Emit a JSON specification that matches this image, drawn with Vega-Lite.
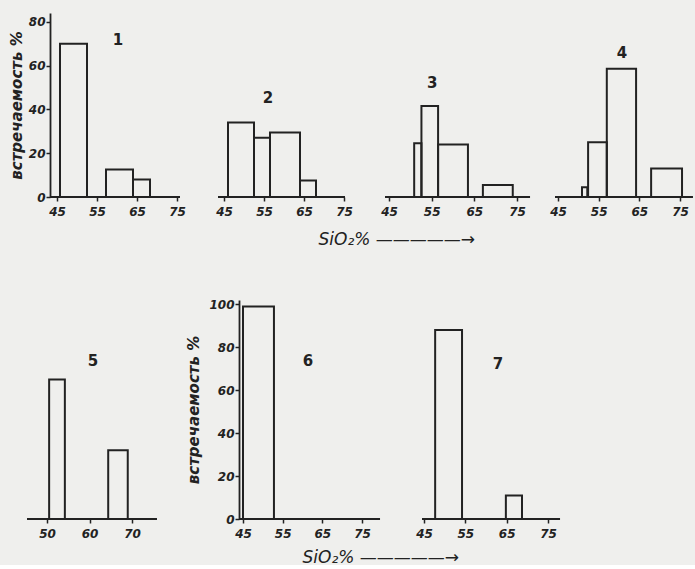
{
  "$schema": "https://vega.github.io/schema/vega-lite/v6.json",
  "background": "#efefed",
  "padding": {"left": 9, "top": 13, "right": 0, "bottom": 0},
  "datasets": {
    "bars": [
      {"panel": 1, "x1": 45.75, "x2": 52.5, "pct": 70},
      {"panel": 1, "x1": 57.25, "x2": 64, "pct": 12.5},
      {"panel": 1, "x1": 64, "x2": 68.25, "pct": 8},
      {"panel": 2, "x1": 46, "x2": 52.5, "pct": 34},
      {"panel": 2, "x1": 52.5, "x2": 56.5, "pct": 27},
      {"panel": 2, "x1": 56.5, "x2": 64, "pct": 29.5},
      {"panel": 2, "x1": 64, "x2": 68, "pct": 7.5},
      {"panel": 3, "x1": 50.9, "x2": 52.6, "pct": 24.5},
      {"panel": 3, "x1": 52.6, "x2": 56.5, "pct": 41.5},
      {"panel": 3, "x1": 56.5, "x2": 63.5, "pct": 24},
      {"panel": 3, "x1": 67, "x2": 74, "pct": 5.5},
      {"panel": 4, "x1": 50.9, "x2": 52.2, "pct": 4.5},
      {"panel": 4, "x1": 52.4, "x2": 57, "pct": 25},
      {"panel": 4, "x1": 57, "x2": 64.2, "pct": 58.5},
      {"panel": 4, "x1": 67.9, "x2": 75.5, "pct": 13},
      {"panel": 5, "x1": 50.5, "x2": 54.2, "pct": 65},
      {"panel": 5, "x1": 64.4, "x2": 69, "pct": 32},
      {"panel": 6, "x1": 45, "x2": 52.8, "pct": 99},
      {"panel": 7, "x1": 47.7, "x2": 54.2, "pct": 88},
      {"panel": 7, "x1": 64.8, "x2": 68.7, "pct": 11}
    ]
  },
  "config": {
    "view": {"stroke": null},
    "axis": {
      "grid": false,
      "domainColor": "#222",
      "domainWidth": 1.8,
      "tickColor": "#222",
      "tickWidth": 1.5,
      "tickSize": 4,
      "labelColor": "#222",
      "labelFont": "DejaVu Sans",
      "labelFontSize": 12,
      "labelFontStyle": "italic",
      "labelFontWeight": "bold",
      "labelFlush": false,
      "labelOverlap": false,
      "titleColor": "#222",
      "titleFont": "DejaVu Sans"
    },
    "axisX": {"labelPadding": 5, "domain": false},
    "axisY": {"labelPadding": 1, "tickSize": 4, "titleFontSize": 15, "titleFontWeight": "bold", "titleFontStyle": "italic", "titlePadding": 4},
    "text": {"font": "DejaVu Sans", "fontSize": 15, "fontWeight": "bold", "color": "#222"},
    "rect": {"fill": "transparent", "stroke": "#222", "strokeWidth": 2},
    "rule": {"stroke": "#222", "strokeWidth": 1.8}
  },
  "spacing": 51,
  "vconcat": [
    {
      "bounds": "flush",
      "spacing": 0,
      "hconcat": [
        {
          "width": 191, "height": 184,
          "layer": [
            {
              "data": {"name": "bars"},
              "transform": [{"filter": "datum.panel == 1"}],
              "mark": {"type": "rect"},
              "encoding": {
                "x": {"field": "x1", "type": "quantitative", "scale": {"domain": [37.5, 85.25], "nice": false, "zero": false}, "axis": {"values": [45, 55, 65, 75], "title": null}},
                "x2": {"field": "x2"},
                "y": {"field": "pct", "type": "quantitative", "scale": {"domain": [0, 84], "nice": false}, "axis": {"values": [0, 20, 40, 60, 80], "offset": -23, "title": "встречаемость %"}},
                "y2": {"datum": 0}
              }
            },
            {
              "data": {"values": [{"label": "1"}]},
              "mark": {"type": "rule"},
              "encoding": {"x": {"datum": 43.25}, "x2": {"datum": 75.75}, "y": {"datum": 0}}
            },
            {
              "data": {"values": [{"label": "1"}]},
              "mark": {"type": "text"},
              "encoding": {"x": {"datum": 60.25}, "y": {"datum": 71.7}, "text": {"field": "label"}}
            }
          ]
        },
        {
          "width": 167, "height": 184,
          "layer": [
            {
              "data": {"name": "bars"},
              "transform": [{"filter": "datum.panel == 2"}],
              "mark": {"type": "rect"},
              "encoding": {
                "x": {"field": "x1", "type": "quantitative", "scale": {"domain": [43.5, 85.25], "nice": false, "zero": false}, "axis": {"values": [45, 55, 65, 75], "title": "SiO₂% —————→", "titleAnchor": "start", "titleAlign": "left", "titleBaseline": "alphabetic", "titleX": 100, "titleY": 47, "titleFontSize": 17, "titleFontWeight": "normal", "titleFontStyle": "italic"}},
                "x2": {"field": "x2"},
                "y": {"field": "pct", "type": "quantitative", "scale": {"domain": [0, 84], "nice": false}, "axis": null},
                "y2": {"datum": 0}
              }
            },
            {
              "data": {"values": [{"label": "2"}]},
              "mark": {"type": "rule"},
              "encoding": {"x": {"datum": 43.5}, "x2": {"datum": 75.25}, "y": {"datum": 0}}
            },
            {
              "data": {"values": [{"label": "2"}]},
              "mark": {"type": "text"},
              "encoding": {"x": {"datum": 56}, "y": {"datum": 45.2}, "text": {"field": "label"}}
            }
          ]
        },
        {
          "width": 170, "height": 184,
          "layer": [
            {
              "data": {"name": "bars"},
              "transform": [{"filter": "datum.panel == 3"}],
              "mark": {"type": "rect"},
              "encoding": {
                "x": {"field": "x1", "type": "quantitative", "scale": {"domain": [44.06, 83.9], "nice": false, "zero": false}, "axis": {"values": [45, 55, 65, 75], "title": null}},
                "x2": {"field": "x2"},
                "y": {"field": "pct", "type": "quantitative", "scale": {"domain": [0, 84], "nice": false}, "axis": null},
                "y2": {"datum": 0}
              }
            },
            {
              "data": {"values": [{"label": "3"}]},
              "mark": {"type": "rule"},
              "encoding": {"x": {"datum": 44.06}, "x2": {"datum": 78.05}, "y": {"datum": 0}}
            },
            {
              "data": {"values": [{"label": "3"}]},
              "mark": {"type": "text"},
              "encoding": {"x": {"datum": 55.1}, "y": {"datum": 52}, "text": {"field": "label"}}
            }
          ]
        },
        {
          "width": 140, "height": 184,
          "layer": [
            {
              "data": {"name": "bars"},
              "transform": [{"filter": "datum.panel == 4"}],
              "mark": {"type": "rect"},
              "encoding": {
                "x": {"field": "x1", "type": "quantitative", "scale": {"domain": [44.26, 78.69], "nice": false, "zero": false}, "axis": {"values": [45, 55, 65, 75], "title": null}},
                "x2": {"field": "x2"},
                "y": {"field": "pct", "type": "quantitative", "scale": {"domain": [0, 84], "nice": false}, "axis": null},
                "y2": {"datum": 0}
              }
            },
            {
              "data": {"values": [{"label": "4"}]},
              "mark": {"type": "rule"},
              "encoding": {"x": {"datum": 44.26}, "x2": {"datum": 78.19}, "y": {"datum": 0}}
            },
            {
              "data": {"values": [{"label": "4"}]},
              "mark": {"type": "text"},
              "encoding": {"x": {"datum": 60.7}, "y": {"datum": 65.8}, "text": {"field": "label"}}
            }
          ]
        }
      ]
    },
    {
      "bounds": "flush",
      "spacing": 0,
      "hconcat": [
        {
          "width": 212, "height": 219,
          "layer": [
            {
              "data": {"name": "bars"},
              "transform": [{"filter": "datum.panel == 5"}],
              "mark": {"type": "rect"},
              "encoding": {
                "x": {"field": "x1", "type": "quantitative", "scale": {"domain": [45.29, 95.18], "nice": false, "zero": false}, "axis": {"values": [50, 60, 70], "title": null}},
                "x2": {"field": "x2"},
                "y": {"field": "pct", "type": "quantitative", "scale": {"domain": [0, 102], "nice": false}, "axis": null},
                "y2": {"datum": 0}
              }
            },
            {
              "data": {"values": [{"label": "5"}]},
              "mark": {"type": "rule"},
              "encoding": {"x": {"datum": 45.29}, "x2": {"datum": 75.88}, "y": {"datum": 0}}
            },
            {
              "data": {"values": [{"label": "5"}]},
              "mark": {"type": "text"},
              "encoding": {"x": {"datum": 60.8}, "y": {"datum": 73.5}, "text": {"field": "label"}}
            }
          ]
        },
        {
          "width": 183, "height": 219,
          "layer": [
            {
              "data": {"name": "bars"},
              "transform": [{"filter": "datum.panel == 6"}],
              "mark": {"type": "rect"},
              "encoding": {
                "x": {"field": "x1", "type": "quantitative", "scale": {"domain": [43.99, 90.12], "nice": false, "zero": false}, "axis": {"values": [45, 55, 65, 75], "title": "SiO₂% —————→", "titleAnchor": "start", "titleAlign": "left", "titleBaseline": "alphabetic", "titleX": 63, "titleY": 43, "titleFontSize": 17, "titleFontWeight": "normal", "titleFontStyle": "italic"}},
                "x2": {"field": "x2"},
                "y": {"field": "pct", "type": "quantitative", "scale": {"domain": [0, 102], "nice": false}, "axis": {"values": [0, 20, 40, 60, 80, 100], "title": "встречаемость %", "titlePadding": 7}},
                "y2": {"datum": 0}
              }
            },
            {
              "data": {"values": [{"label": "6"}]},
              "mark": {"type": "rule"},
              "encoding": {"x": {"datum": 43.99}, "x2": {"datum": 79.54}, "y": {"datum": 0}}
            },
            {
              "data": {"values": [{"label": "6"}]},
              "mark": {"type": "text"},
              "encoding": {"x": {"datum": 61.4}, "y": {"datum": 73.5}, "text": {"field": "label"}}
            }
          ]
        },
        {
          "width": 143, "height": 219,
          "layer": [
            {
              "data": {"name": "bars"},
              "transform": [{"filter": "datum.panel == 7"}],
              "mark": {"type": "rect"},
              "encoding": {
                "x": {"field": "x1", "type": "quantitative", "scale": {"domain": [44.52, 79.1], "nice": false, "zero": false}, "axis": {"values": [45, 55, 65, 75], "title": null}},
                "x2": {"field": "x2"},
                "y": {"field": "pct", "type": "quantitative", "scale": {"domain": [0, 102], "nice": false}, "axis": null},
                "y2": {"datum": 0}
              }
            },
            {
              "data": {"values": [{"label": "7"}]},
              "mark": {"type": "rule"},
              "encoding": {"x": {"datum": 44.52}, "x2": {"datum": 77.9}, "y": {"datum": 0}}
            },
            {
              "data": {"values": [{"label": "7"}]},
              "mark": {"type": "text"},
              "encoding": {"x": {"datum": 62.9}, "y": {"datum": 72}, "text": {"field": "label"}}
            }
          ]
        }
      ]
    }
  ]
}
